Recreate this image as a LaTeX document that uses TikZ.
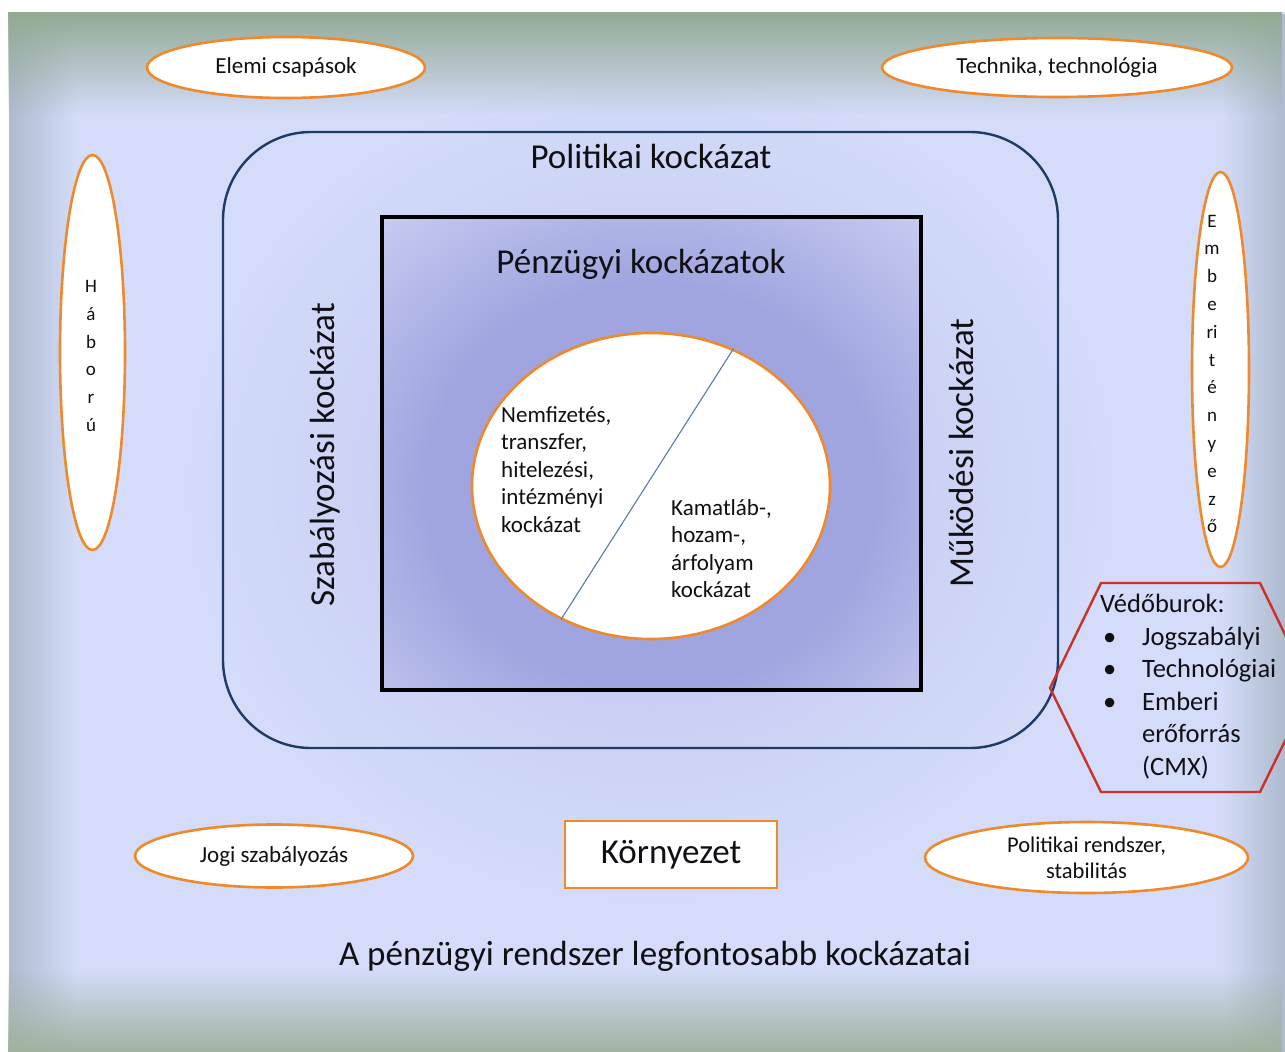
\documentclass[tikz,border=0pt]{standalone}
\usepackage{fontspec}
\setmainfont{Carlito}
\usetikzlibrary{shapes.geometric,fadings}
\definecolor{bgc}{HTML}{D4DCF9}
\definecolor{edgetop}{HTML}{93AA94}
\definecolor{edgebot}{HTML}{A0B3A0}
\definecolor{edgeside}{HTML}{AEBBCE}
\definecolor{orng}{HTML}{EE8A2C}
\definecolor{navy}{HTML}{1F3A64}
\definecolor{glowc}{HTML}{A0A5E0}
\definecolor{glowo}{HTML}{BDC2EE}
\definecolor{sqedge}{HTML}{C6CBF1}
\definecolor{hexred}{HTML}{C8322B}
\definecolor{diag}{HTML}{5A78B4}
\definecolor{ink}{HTML}{101014}
\pgfdeclareradialshading{glowout}{\pgfpoint{0bp}{0bp}}{color(0bp)=(glowo); color(25bp)=(bgc); color(50bp)=(bgc)}
\pgfdeclareradialshading{glowin}{\pgfpoint{0bp}{0bp}}{color(0bp)=(glowc); color(14bp)=(glowc); color(25bp)=(sqedge); color(50bp)=(sqedge)}
\tikzfading[name=fadeS, top color=transparent!0, bottom color=transparent!100]
\tikzfading[name=fadeN, top color=transparent!100, bottom color=transparent!0]
\tikzfading[name=fadeE, left color=transparent!0, right color=transparent!100]
\tikzfading[name=fadeW, left color=transparent!100, right color=transparent!0]
\tikzset{
  oval/.style={ellipse, draw=orng, line width=2.6pt, fill=white, inner sep=0pt, text=ink},
  smallfont/.style={font=\fontsize{23}{27.5}\selectfont},
  bigtxt/.style={font=\fontsize{35}{42}\selectfont, text=ink, inner sep=0pt},
  circtxt/.style={font=\fontsize{23}{27.5}\selectfont, text=ink, inner sep=0pt, align=left},
  vtxt/.style={font=\fontsize{19}{27.8}\selectfont, text=ink, inner sep=0pt, align=center},
  hextxt/.style={font=\fontsize{26.5}{32.5}\selectfont, text=ink, inner sep=0pt, align=left},
  boxed/.style={draw=orng, line width=2.6pt, fill=white, inner sep=0pt, text=ink},
}
\newcommand{\bul}{\makebox[42pt][l]{\hspace*{3pt}\textbullet}}
\begin{document}
\begin{tikzpicture}[x=1pt, y=-1pt]
\useasboundingbox (0,0) rectangle (1285,1052);
\fill[white] (0,0) rectangle (1285,1052);
% background
\fill[bgc] (9,12) rectangle (1285,1052);
\shade[shading=glowout] (651,486) ellipse [x radius=470pt, y radius=420pt];
\fill[edgeside, path fading=fadeE] (9,12) rectangle (75,1052);
\fill[edgeside, path fading=fadeW] (1222,12) rectangle (1285,1052);
\fill[edgetop, path fading=fadeS] (9,12) rectangle (1285,115);
\fill[edgebot, path fading=fadeN] (9,970) rectangle (1285,1052);
% political frame
\draw[navy, line width=2.4pt, rounded corners=88pt] (223,132) rectangle (1058,748);
% financial square
\begin{scope}
  \clip (382,217) rectangle (921,690);
  \shade[shading=glowin] (651,486) ellipse [x radius=400pt, y radius=360pt];
\end{scope}
\draw[black, line width=3.8pt] (382,217) rectangle (921,690);
% titles
\node[bigtxt, anchor=base] (polt) at (651,168) {Politikai kockázat};
\node[bigtxt, anchor=base] (penz) at (641,273) {Pénzügyi kockázatok};
\node[bigtxt, rotate=90] (szab) at (325,455) {Szabályozási kockázat};
\node[bigtxt, rotate=90] (muk) at (961,453) {Működési kockázat};
\node[bigtxt, anchor=base] (cim) at (655,965) {A pénzügyi rendszer legfontosabb kockázatai};
% central ellipse
\node[oval, minimum width=358pt, minimum height=306pt] (circ) at (651,486) {};
\draw[diag, line width=1.1pt] (circ.59) -- (circ.236);
\node[circtxt, anchor=north west] (lt) at (501,406) {Nemfizetés,\\transzfer,\\hitelezési,\\intézményi\\kockázat};
\node[circtxt, anchor=north west] (rt) at (671,499) {Kamatláb-,\\hozam-,\\árfolyam\\kockázat};
% outer ovals
\node[oval, smallfont, minimum width=278pt, minimum height=61pt] (elemi) at (286,67.5) {Elemi csapások};
\node[oval, smallfont, minimum width=350pt, minimum height=59pt] (tech) at (1057,67.5) {Technika, technológia};
\node[oval, smallfont, minimum width=278pt, minimum height=63pt] (jogi) at (274,856) {Jogi szabályozás};
\node[oval, font=\fontsize{22.5}{26}\selectfont, align=center, minimum width=323pt, minimum height=71pt] (polr) at (1086.5,857.5) {Politikai rendszer,\\stabilitás};
\node[oval, minimum width=65pt, minimum height=395pt] (hab) at (92.5,352.5) {};
\node[vtxt] (habt) at (91,356) {H\\á\\b\\o\\r\\ú};
\node[oval, minimum width=57pt, minimum height=395pt] (emb) at (1220.5,369.5) {};
\node[vtxt] (embt) at (1212,374) {E\\m\\b\\e\\ri\\t\\é\\n\\y\\e\\z\\ő};
% environment box
\node[boxed, bigtxt, draw=orng, fill=white, minimum width=212pt, minimum height=67pt] (korny) at (671,854.5) {Környezet};
% protective hexagon
\draw[hexred, line width=2.4pt] (1050,688) -- (1101,583) -- (1260,583) -- (1311,688) -- (1260,792) -- (1101,792) -- cycle;
\node[hextxt, anchor=north west] (veb) at (1100,594) {Védőburok:\\\bul Jogszabályi\\\bul Technológiai\\\bul Emberi\\\hspace*{42pt}erőforrás\\\hspace*{42pt}(CMX)};
\end{tikzpicture}
\end{document}
